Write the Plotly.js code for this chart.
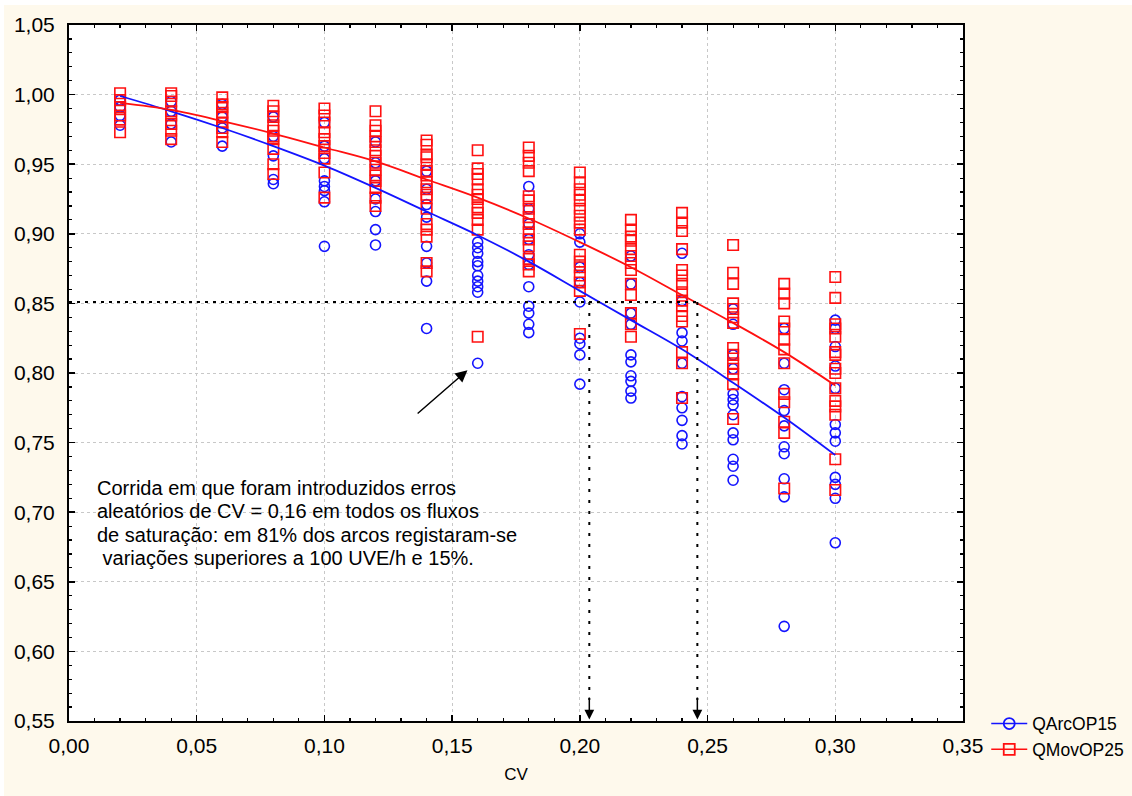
<!DOCTYPE html>
<html>
<head>
<meta charset="utf-8">
<script src="https://cdn.plot.ly/plotly-3.0.1.min.js"></script>
<style>html,body{margin:0;padding:0;background:#fff}#chart{width:1132px;height:796px}</style>
</head>
<body>
<div id="chart"></div>
<script>
// CV levels
var cvLevels = [0.02,0.04,0.06,0.08,0.10,0.12,0.14,0.16,0.18,0.20,0.22,0.24,0.26,0.28,0.30];

// QArcOP15 observed values per CV level
var qArcPoints = [
  [0.996,0.991,0.985,0.978],
  [0.995,0.988,0.979,0.966],
  [0.993,0.984,0.976,0.963],
  [0.984,0.970,0.956,0.939,0.936],
  [0.980,0.963,0.954,0.938,0.934,0.931,0.923,0.891],
  [0.966,0.951,0.938,0.925,0.916,0.903,0.892],
  [0.945,0.932,0.921,0.912,0.891,0.879,0.866,0.832],
  [0.894,0.890,0.886,0.880,0.877,0.870,0.866,0.862,0.858,0.807],
  [0.934,0.918,0.907,0.896,0.885,0.878,0.862,0.848,0.843,0.835,0.829],
  [0.900,0.894,0.876,0.865,0.851,0.825,0.821,0.813,0.792],
  [0.884,0.864,0.843,0.835,0.813,0.808,0.798,0.794,0.787,0.782],
  [0.886,0.852,0.829,0.823,0.807,0.783,0.775,0.766,0.755,0.749],
  [0.846,0.835,0.813,0.803,0.785,0.781,0.777,0.770,0.757,0.752,0.738,0.733,0.723],
  [0.832,0.807,0.788,0.773,0.762,0.747,0.742,0.724,0.711,0.618],
  [0.838,0.832,0.819,0.805,0.789,0.763,0.757,0.751,0.725,0.720,0.710,0.678]
];

// QMovOP25 observed values per CV level
var qMovPoints = [
  [1.001,0.996,0.991,0.985,0.982,0.973],
  [1.001,0.999,0.995,0.988,0.985,0.979,0.974,0.968],
  [0.998,0.993,0.991,0.987,0.984,0.980,0.976,0.973,0.966],
  [0.992,0.988,0.984,0.978,0.974,0.970,0.968,0.961,0.950,0.943],
  [0.990,0.985,0.980,0.973,0.968,0.963,0.958,0.954,0.944,0.926],
  [0.988,0.978,0.974,0.970,0.966,0.960,0.956,0.951,0.946,0.942,0.938,0.933,0.926,0.920],
  [0.967,0.964,0.957,0.955,0.950,0.945,0.942,0.937,0.932,0.928,0.926,0.918,0.907,0.903,0.898,0.879,0.873],
  [0.960,0.947,0.943,0.939,0.932,0.928,0.925,0.919,0.915,0.910,0.903,0.826],
  [0.962,0.956,0.951,0.945,0.927,0.924,0.918,0.912,0.907,0.901,0.896,0.891,0.882,0.878,0.873],
  [0.944,0.937,0.932,0.928,0.924,0.918,0.913,0.908,0.903,0.885,0.880,0.876,0.870,0.865,0.859,0.828],
  [0.910,0.903,0.898,0.895,0.889,0.884,0.879,0.874,0.864,0.856,0.843,0.835,0.826],
  [0.915,0.908,0.902,0.889,0.874,0.870,0.864,0.858,0.852,0.848,0.841,0.837,0.815,0.807,0.782],
  [0.892,0.872,0.864,0.850,0.846,0.840,0.836,0.818,0.813,0.807,0.803,0.799,0.792,0.767],
  [0.864,0.857,0.850,0.837,0.832,0.824,0.817,0.807,0.785,0.779,0.765,0.757,0.717],
  [0.869,0.854,0.835,0.832,0.826,0.815,0.813,0.803,0.800,0.789,0.780,0.776,0.770,0.738,0.716]
];

// fitted curves at each CV level
var qArcFit = [0.999,0.988,0.976,0.963,0.949,0.933,0.916,0.899,0.880,0.859,0.838,0.817,0.793,0.768,0.741];
var qMovFit = [0.994,0.989,0.981,0.972,0.962,0.952,0.939,0.926,0.911,0.894,0.876,0.856,0.836,0.815,0.791];

var seriesNames = ['QArcOP15','QMovOP25'];
var noteLines = [
  'Corrida em que foram introduzidos erros',
  'aleatórios de CV = 0,16 em todos os fluxos',
  'de saturação: em 81% dos arcos registaram-se',
  '\u00a0variações superiores a 100 UVE/h e 15%.'
];
var noteLineY = [0.7176, 0.7007, 0.6838, 0.6669];

// reference lines
var refY = 0.851;
var refX1 = 0.2037;
var refX2 = 0.246;

function expand(points){
  var xs=[], ys=[];
  points.forEach(function(col,i){ col.forEach(function(v){ xs.push(cvLevels[i]); ys.push(v); }); });
  return {x:xs,y:ys};
}
var blue='#1414ff', red='#ff1010';
var a = expand(qArcPoints), m = expand(qMovPoints);

var traces = [
  {x:a.x, y:a.y, type:'scatter', mode:'markers', showlegend:false,
   marker:{symbol:'circle-open', size:10, color:blue, line:{width:1.6,color:blue}}},
  {x:m.x, y:m.y, type:'scatter', mode:'markers', showlegend:false,
   marker:{symbol:'square-open', size:10.5, color:red, line:{width:1.6,color:red}}},
  {x:cvLevels, y:qArcFit, type:'scatter', mode:'lines', showlegend:false,
   line:{color:blue,width:1.8,shape:'spline'}},
  {x:cvLevels, y:qMovFit, type:'scatter', mode:'lines', showlegend:false,
   line:{color:red,width:1.8,shape:'spline'}},
  {x:[null], y:[null], type:'scatter', mode:'lines+markers', name:seriesNames[0],
   line:{color:blue,width:1.6}, marker:{symbol:'circle-open',size:11,color:blue,line:{width:1.8,color:blue}}},
  {x:[null], y:[null], type:'scatter', mode:'lines+markers', name:seriesNames[1],
   line:{color:red,width:1.6}, marker:{symbol:'square-open',size:11,color:red,line:{width:1.8,color:red}}}
];

var fontFam = '"Liberation Sans", Arial, sans-serif';
var axisCommon = {
  showline:true, linecolor:'#000', linewidth:2, mirror:'allticks',
  ticks:'inside', ticklen:6, tickwidth:1.5, tickcolor:'#000',
  showgrid:true, gridcolor:'#c8c8c8', gridwidth:1, griddash:'dot',
  zeroline:false, tickformat:'.2f', dtick:0.05,
  tickfont:{family:fontFam, size:21, color:'#000'},
  minor:{dtick:0.01, ticks:'inside', ticklen:3, tickwidth:1.2, tickcolor:'#000', showgrid:false}
};

var annotations = noteLines.map(function(t,i){
  return {x:0.0102, y:noteLineY[i], xref:'x', yref:'y', xanchor:'left', yanchor:'middle', align:'left',
    text:t, showarrow:false, font:{family:fontFam, size:20, color:'#000'}};
});
annotations.push(
  {x:0.156, y:0.802, ax:0.1359, ay:0.770, xref:'x', yref:'y', axref:'x', ayref:'y',
   text:'', showarrow:true, arrowhead:2, arrowsize:1.6, arrowwidth:1.5, arrowcolor:'#000'},
  {x:refX1, y:0.551, ax:refX1, ay:0.568, xref:'x', yref:'y', axref:'x', ayref:'y',
   text:'', showarrow:true, arrowhead:2, arrowsize:1.3, arrowwidth:1.5, arrowcolor:'#000'},
  {x:refX2, y:0.551, ax:refX2, ay:0.568, xref:'x', yref:'y', axref:'x', ayref:'y',
   text:'', showarrow:true, arrowhead:2, arrowsize:1.3, arrowwidth:1.5, arrowcolor:'#000'}
);

var layout = {
  width:1132, height:796,
  margin:{l:69, r:169, t:25, b:75, autoexpand:false},
  paper_bgcolor:'#ffffff', plot_bgcolor:'#ffffff',
  separators:',.',
  font:{family:fontFam, color:'#000'},
  xaxis:Object.assign({}, axisCommon, {range:[0,0.35], tick0:0,
    ticklabelstandoff:5,
    title:{text:'CV', font:{family:fontFam, size:17, color:'#000'}, standoff:12}}),
  yaxis:Object.assign({}, axisCommon, {range:[0.55,1.05], tick0:0.55, ticklabelstandoff:8}),
  legend:{x:1.026, y:0.022, xanchor:'left', yanchor:'top', bgcolor:'rgba(0,0,0,0)', itemwidth:36,
    font:{family:fontFam, size:17.5, color:'#000'}, tracegroupgap:0},
  shapes:[
    {type:'rect', xref:'paper', yref:'paper', x0:-0.0727, x1:1.2, y0:-0.12, y1:1.0287,
     fillcolor:'#fef9ec', line:{width:0}, layer:'below'},
    {type:'rect', xref:'paper', yref:'paper', x0:0, x1:1, y0:0, y1:1,
     fillcolor:'#ffffff', line:{width:0}, layer:'below'},
    {type:'line', xref:'x', yref:'y', x0:0, x1:refX2, y0:refY, y1:refY,
     line:{color:'#000', width:2, dash:'3px,5px'}},
    {type:'line', xref:'x', yref:'y', x0:refX1, x1:refX1, y0:refY, y1:0.565,
     line:{color:'#000', width:2, dash:'3px,8px'}},
    {type:'line', xref:'x', yref:'y', x0:refX2, x1:refX2, y0:refY, y1:0.565,
     line:{color:'#000', width:2, dash:'3px,8px'}}
  ],
  annotations:annotations
};

Plotly.newPlot('chart', traces, layout, {displayModeBar:false, staticPlot:true});
</script>
</body>
</html>
